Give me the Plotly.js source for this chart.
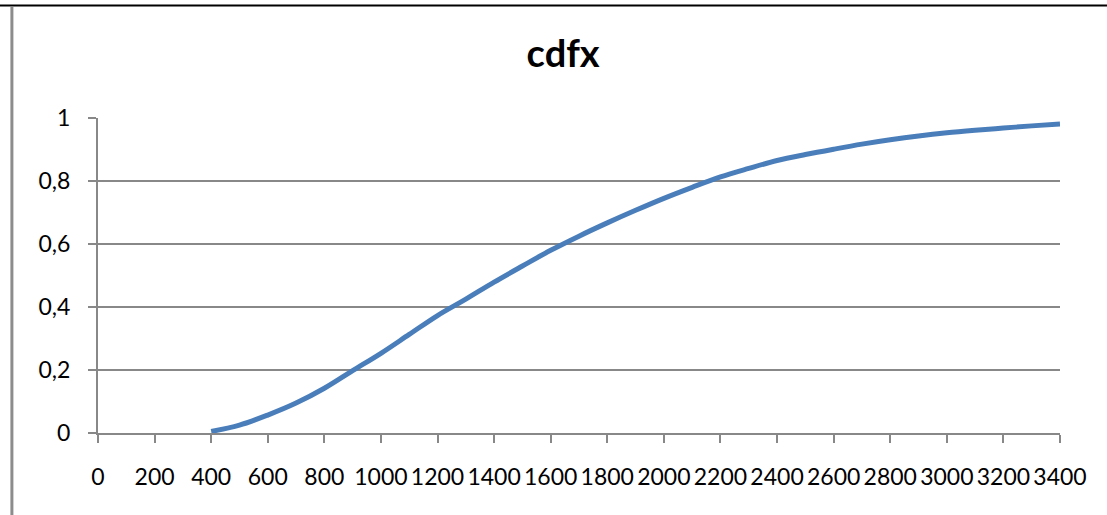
<!DOCTYPE html>
<html>
<head>
<meta charset="utf-8">
<script src="https://cdn.plot.ly/plotly-3.0.1.min.js"></script>
<style>
  html, body { margin: 0; padding: 0; background: #ffffff; }
  #chart { width: 1107px; height: 515px; }
</style>
</head>
<body>
<div id="chart"></div>
<script>
// Cumulative distribution of x
const xValues = [400, 500, 600, 700, 800, 900, 1000, 1100, 1200, 1300, 1400, 1500, 1600, 1700,
                 1800, 1900, 2000, 2100, 2200, 2300, 2400, 2500, 2600, 2700, 2800, 2900, 3000,
                 3100, 3200, 3300, 3400];
const cdfValues = [0.005, 0.025, 0.057, 0.095, 0.142, 0.198, 0.253, 0.313, 0.373, 0.425, 0.479,
                   0.530, 0.580, 0.625, 0.667, 0.707, 0.745, 0.780, 0.813, 0.840, 0.865, 0.884,
                   0.901, 0.917, 0.931, 0.943, 0.953, 0.961, 0.968, 0.975, 0.981];

const xTickVals = [0, 200, 400, 600, 800, 1000, 1200, 1400, 1600, 1800, 2000, 2200, 2400,
                   2600, 2800, 3000, 3200, 3400];
const yTickVals = [0, 0.2, 0.4, 0.6, 0.8, 1];
const yTickText = ['0', '0,2', '0,4', '0,6', '0,8', '1'];
const chartTitle = 'cdfx';

const axisGray = '#888888';
const labelFont = { family: 'Lato, Carlito, sans-serif', size: 23, color: '#000000' };

const trace = {
  x: xValues,
  y: cdfValues,
  type: 'scatter',
  mode: 'lines',
  line: { color: '#4a7ebb', width: 5, shape: 'spline', smoothing: 1 },
  hoverinfo: 'skip'
};

const layout = {
  width: 1107,
  height: 515,
  margin: { l: 98, r: 47, t: 118, b: 82 },
  paper_bgcolor: '#ffffff',
  plot_bgcolor: '#ffffff',
  showlegend: false,
  title: {
    text: '<b>' + chartTitle + '</b>',
    font: { family: 'Lato, Carlito, sans-serif', size: 38, color: '#000000' },
    x: 0.5087, xanchor: 'center',
    y: 0.895, yanchor: 'middle'
  },
  xaxis: {
    range: [0, 3400],
    tickvals: xTickVals,
    ticktext: xTickVals.map(String),
    tickangle: 0,
    ticks: 'outside', ticklen: 8, tickwidth: 2, tickcolor: axisGray,
    showline: true, linecolor: axisGray, linewidth: 2,
    showgrid: false, zeroline: false,
    tickfont: labelFont,
    ticklabelstandoff: 14
  },
  yaxis: {
    range: [0, 1],
    tickvals: yTickVals,
    ticktext: yTickText,
    ticks: 'outside', ticklen: 8, tickwidth: 2, tickcolor: axisGray,
    showline: true, linecolor: axisGray, linewidth: 2,
    showgrid: true, gridcolor: axisGray, gridwidth: 2,
    zeroline: false,
    tickfont: labelFont,
    ticklabelstandoff: 13
  },
  shapes: [
    // frame: dark top edge and grey left edge of the chart area
    { type: 'line', xref: 'paper', yref: 'paper',
      x0: -0.102, x1: 1.06, y0: 1.357, y1: 1.357,
      line: { color: '#000000', width: 2 } },
    { type: 'line', xref: 'paper', yref: 'paper',
      x0: -0.0895, x1: -0.0895, y0: 1.352, y1: -0.27,
      line: { color: '#8c8c8c', width: 3 } }
  ]
};

Plotly.newPlot('chart', [trace], layout, { staticPlot: true, displayModeBar: false });
</script>
</body>
</html>
